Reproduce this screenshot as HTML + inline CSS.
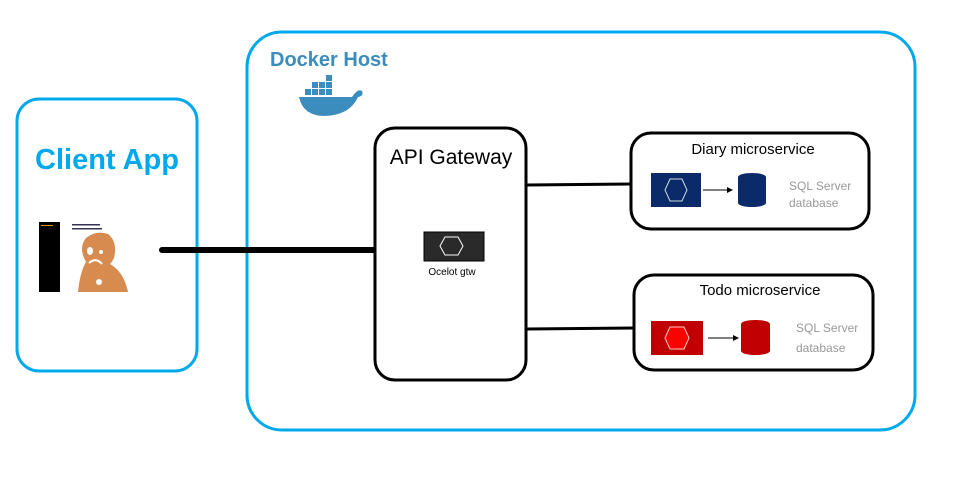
<!DOCTYPE html>
<html><head><meta charset="utf-8"><style>html,body{margin:0;padding:0;background:#fff}svg{display:block}</style></head><body>
<svg width="954" height="479" viewBox="0 0 954 479" xmlns="http://www.w3.org/2000/svg" font-family="Liberation Sans, sans-serif">
<rect x="17" y="99" width="180" height="272" rx="22" fill="none" stroke="#00a8ec" stroke-width="3"/>
<text x="107" y="169" text-anchor="middle" font-size="29" font-weight="bold" fill="#00a8ec">Client App</text>
<rect x="39" y="222" width="21" height="70" fill="#000"/>
<rect x="41" y="225" width="12" height="1" fill="#c90"/>
<path d="M78 292 Q80 272 86 262 Q78 248 86 238 Q96 230 108 234 Q118 242 114 258 Q112 262 110 264 Q124 272 128 292 Z" fill="#d78b4f"/>
<rect x="72" y="224" width="28" height="1.5" fill="#335"/><rect x="72" y="228" width="30" height="1.5" fill="#335"/>
<ellipse cx="90" cy="251" rx="3" ry="4" fill="#fff"/><circle cx="101" cy="252" r="2" fill="#fff"/>
<path d="M89 263 Q96 257 102 264" stroke="#fff" stroke-width="2" fill="none"/><circle cx="99" cy="282" r="3" fill="#fff"/>
<rect x="247" y="32" width="668" height="398" rx="35" fill="none" stroke="#00a8ec" stroke-width="3"/>
<text x="270" y="66" font-size="20" font-weight="bold" fill="#3b8dbd">Docker Host</text>
<g fill="#3b8dbd">
<path d="M299 97 L352 97 Q358 88 362 91 Q364 96 358 97 Q350 115 325 116 Q303 116 299 97 Z"/>
<rect x="305" y="89" width="6" height="6"/><rect x="312" y="89" width="6" height="6"/><rect x="319" y="89" width="6" height="6"/><rect x="326" y="89" width="6" height="6"/>
<rect x="312" y="82" width="6" height="6"/><rect x="319" y="82" width="6" height="6"/><rect x="326" y="82" width="6" height="6"/><rect x="326" y="75" width="6" height="6"/>
</g>
<line x1="162" y1="250" x2="374" y2="250" stroke="#000" stroke-width="6" stroke-linecap="round"/>
<rect x="375" y="128" width="151" height="252" rx="20" fill="#fff" stroke="#000" stroke-width="3"/>
<text x="451" y="164" text-anchor="middle" font-size="21" fill="#000">API Gateway</text>
<rect x="424" y="232" width="60" height="29" fill="#2a2a2a" stroke="#000"/>
<polygon points="440,246 445,237 458,237 463,246 458,255 445,255" fill="none" stroke="#fff" stroke-width="1"/>
<text x="452" y="275" text-anchor="middle" font-size="10" fill="#000">Ocelot gtw</text>
<line x1="527" y1="185" x2="631" y2="184" stroke="#000" stroke-width="3"/>
<line x1="527" y1="329" x2="634" y2="328" stroke="#000" stroke-width="3"/>
<rect x="631" y="133" width="238" height="96" rx="20" fill="#fff" stroke="#000" stroke-width="3"/>
<text x="753" y="154" text-anchor="middle" font-size="15" fill="#000">Diary microservice</text>
<rect x="651" y="173" width="50" height="34" fill="#0a2a6a"/>
<polygon points="665,190 670,179 682,179 687,190 682,201 670,201" fill="none" stroke="#cdd" stroke-width="1"/>
<line x1="703" y1="190" x2="728" y2="190" stroke="#000"/><polygon points="733,190 727,187 727,193" fill="#000"/>
<path d="M738 177 A14 4 0 0 1 766 177 L766 203 A14 4 0 0 1 738 203 Z" fill="#0a2a6a"/>
<text x="789" y="190" font-size="12" fill="#999">SQL Server</text><text x="789" y="207" font-size="12" fill="#999">database</text>
<rect x="634" y="275" width="239" height="95" rx="20" fill="#fff" stroke="#000" stroke-width="3"/>
<text x="760" y="295" text-anchor="middle" font-size="15" fill="#000">Todo microservice</text>
<rect x="651" y="321" width="52" height="34" fill="#c00000"/>
<polygon points="665,338 670,327 684,327 689,338 684,349 670,349" fill="#f00" stroke="#fcc" stroke-width="1"/>
<line x1="708" y1="338" x2="733" y2="338" stroke="#000"/><polygon points="739,338 733,335 733,341" fill="#000"/>
<path d="M741 324 A14.5 4 0 0 1 770 324 L770 351 A14.5 4 0 0 1 741 351 Z" fill="#c00000"/>
<text x="796" y="332" font-size="12" fill="#999">SQL Server</text><text x="796" y="352" font-size="12" fill="#999">database</text>
</svg>
</body></html>
